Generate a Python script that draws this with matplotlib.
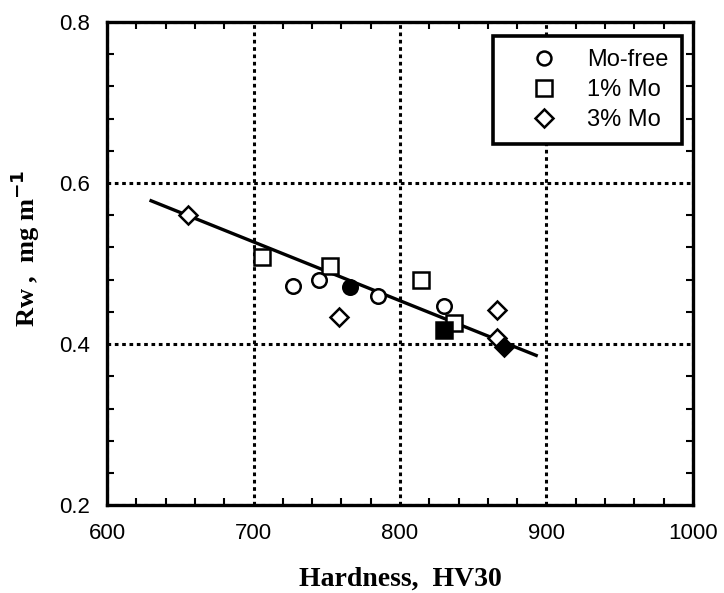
import matplotlib.pyplot as plt
from matplotlib.ticker import MultipleLocator
from matplotlib.lines import Line2D

# hardness (HV30) and wear rate (mg/m)
mo_free_x = [727, 745, 785, 830]
mo_free_y = [0.472, 0.480, 0.460, 0.447]
mo_free_fill_x = [766]
mo_free_fill_y = [0.471]

mo1_x = [706, 752, 814, 837]
mo1_y = [0.508, 0.497, 0.480, 0.426]
mo1_fill_x = [830]
mo1_fill_y = [0.417]

mo3_x = [655, 758, 866, 866]
mo3_y = [0.560, 0.434, 0.442, 0.407]
mo3_fill_x = [871]
mo3_fill_y = [0.397]

fit_x = [630, 893]
fit_y = [0.578, 0.386]

fig = plt.figure(figsize=(7.24, 5.93), dpi=100)
ax = fig.add_axes([0.148, 0.148, 0.809, 0.815])

ax.plot(fit_x, fit_y, color='black', linewidth=2.4, zorder=2)

ms = 11
mew = 1.8
ax.plot(mo3_x, mo3_y, 'D', ms=ms * 0.8, mfc='white', mec='black', mew=mew, zorder=3)
ax.plot(mo3_fill_x, mo3_fill_y, 'D', ms=ms * 0.8, mfc='black', mec='black', mew=mew, zorder=3)
ax.plot(mo1_x, mo1_y, 's', ms=ms, mfc='white', mec='black', mew=mew, zorder=3)
ax.plot(mo1_fill_x, mo1_fill_y, 's', ms=ms, mfc='black', mec='black', mew=mew, zorder=3)
ax.plot(mo_free_x, mo_free_y, 'o', ms=ms * 0.95, mfc='white', mec='black', mew=mew, zorder=3)
ax.plot(mo_free_fill_x, mo_free_fill_y, 'o', ms=ms * 0.95, mfc='black', mec='black', mew=mew, zorder=3)

ax.set_xlim(600, 1000)
ax.set_ylim(0.2, 0.8)
ax.xaxis.set_major_locator(MultipleLocator(100))
ax.xaxis.set_minor_locator(MultipleLocator(20))
ax.yaxis.set_major_locator(MultipleLocator(0.2))
ax.yaxis.set_minor_locator(MultipleLocator(0.04))
ax.set_yticks([0.2, 0.4, 0.6, 0.8])
ax.set_yticklabels(['0.2', '0.4', '0.6', '0.8'])

ax.tick_params(which='both', direction='in', top=True, right=True, width=1.5)
ax.tick_params(which='major', length=0, labelsize=16)
ax.tick_params(axis='x', which='major', pad=13)
ax.tick_params(axis='y', which='major', pad=12)
ax.tick_params(which='minor', length=5)
for lab in ax.get_xticklabels() + ax.get_yticklabels():
    lab.set_family('Liberation Sans')

ax.grid(True, which='major', color='black', linestyle=(0, (1.2, 1.2)), linewidth=2.2)
for s in ax.spines.values():
    s.set_linewidth(2.4)

ax.set_xlabel('Hardness,  HV30', family='Liberation Serif', fontweight='bold',
              fontsize=20, labelpad=16)
ax.set_ylabel('Rw ,  mg m$^{\\mathbf{-1}}$', family='Liberation Serif', fontweight='bold',
              fontsize=19)
ax.yaxis.set_label_coords(-0.112, 0.532)

handles = [
    Line2D([], [], marker='o', ls='none', ms=10, mfc='white', mec='black', mew=1.8),
    Line2D([], [], marker='s', ls='none', ms=11, mfc='white', mec='black', mew=1.8),
    Line2D([], [], marker='D', ls='none', ms=9, mfc='white', mec='black', mew=1.8),
]
leg = ax.legend(handles, ['Mo-free', '1% Mo', '3% Mo'], loc='upper right',
                bbox_to_anchor=(0.981, 0.971), fancybox=False, framealpha=1,
                edgecolor='black', prop={'family': 'Liberation Sans', 'size': 17},
                handlelength=3.2, handletextpad=0.25, borderpad=0.55,
                labelspacing=0.35, borderaxespad=0)
leg.get_frame().set_linewidth(2.6)

fig.savefig('out.png', dpi=100)
